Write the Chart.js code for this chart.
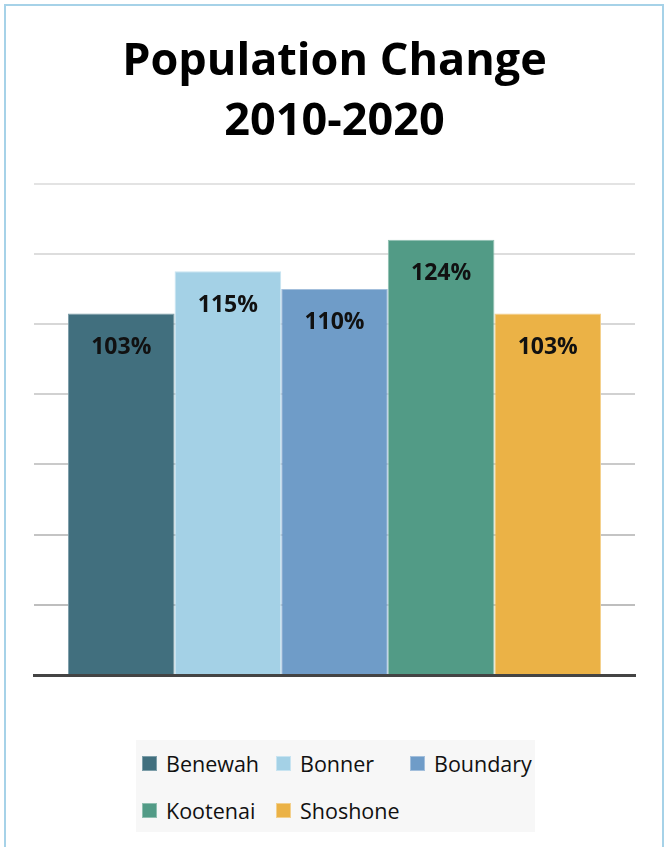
<!DOCTYPE html>
<html>
<head>
<meta charset="utf-8">
<script src="https://cdn.jsdelivr.net/npm/chart.js@4.4.1/dist/chart.umd.min.js"></script>
<style>
  html, body { margin: 0; padding: 0; background: #fff; }
  body { width: 664px; height: 847px; position: relative; overflow: hidden; font-family: 'Open Sans', 'Noto Sans', sans-serif; }
  .frame { position: absolute; left: 4px; top: 4px; width: 660px; height: 860px; border: 2px solid #a6d2e8; box-sizing: border-box; }
  #chart { position: absolute; left: 0; top: 0; }
  #legend { position: absolute; left: 136px; top: 740px; width: 399px; height: 92px; background: #f7f7f7;
            display: grid; grid-template-columns: repeat(3, 134px); grid-auto-rows: 47px; padding: 0 0 0 6px; box-sizing: border-box; }
  .item { display: flex; align-items: center; font-size: 21.5px; color: #111; white-space: nowrap; }
  .swatch { width: 15px; height: 15px; margin-right: 9px; box-sizing: border-box; }
</style>
</head>
<body>
<div class="frame"></div>
<canvas id="chart" width="664" height="847"></canvas>
<div id="legend"></div>
<script>
const counties = ['Benewah', 'Bonner', 'Boundary', 'Kootenai', 'Shoshone'];
const changePct = [103, 115, 110, 124, 103];
const fillColors = ['#416f7e', '#a4d1e6', '#6f9cc8', '#529b86', '#ebb246'];
const edgeColors = ['#7d9ea9', '#c8e4f1', '#a3bfdc', '#8fbfb0', '#f3d08d'];
const yTicks = [0, 20, 40, 60, 80, 100, 120, 140];

// darker grid lines toward the baseline
const gridShade = v => {
  const t = v / 140;
  const c = Math.round(184 + (227 - 184) * t);
  return `rgb(${c},${c},${c})`;
};

const barLabels = {
  id: 'barLabels',
  afterDatasetsDraw(chart) {
    const ctx = chart.ctx;
    ctx.save();
    ctx.font = 'bold 23px "Open Sans"';
    ctx.fillStyle = '#111';
    ctx.textAlign = 'center';
    ctx.textBaseline = 'middle';
    chart.data.datasets.forEach((ds, i) => {
      const bar = chart.getDatasetMeta(i).data[0];
      ctx.fillText(ds.data[0] + '%', bar.x, bar.y + 34);
    });
    ctx.restore();
  }
};

const chart = new Chart(document.getElementById('chart'), {
  type: 'bar',
  data: {
    labels: ['Population Change'],
    datasets: counties.map((name, i) => ({
      label: name,
      data: [changePct[i]],
      backgroundColor: fillColors[i],
      borderColor: edgeColors[i],
      borderWidth: 1,
      categoryPercentage: 0.887,
      barPercentage: 1
    }))
  },
  options: {
    responsive: false,
    animation: false,
    layout: { padding: { left: 34, right: 29, top: 0, bottom: 164 } },
    plugins: {
      legend: { display: false },
      tooltip: { enabled: false },
      title: {
        display: true,
        text: ['Population Change', '2010-2020'],
        color: '#000',
        font: { family: 'Open Sans', size: 45, weight: 'bold', lineHeight: 1.34 },
        padding: { top: 32, bottom: 31 }
      }
    },
    scales: {
      x: {
        ticks: { display: false },
        grid: { display: false },
        border: { display: true, color: '#444', width: 3 }
      },
      y: {
        min: 0,
        max: 140,
        afterBuildTicks: axis => { axis.ticks = yTicks.map(v => ({ value: v })); },
        ticks: { display: false },
        border: { display: false },
        grid: { drawTicks: false, lineWidth: 2, color: ctx => gridShade(ctx.tick.value) }
      }
    }
  },
  plugins: [barLabels]
});

// legend built from the datasets
const legend = document.getElementById('legend');
chart.data.datasets.forEach(ds => {
  const item = document.createElement('div');
  item.className = 'item';
  item.innerHTML = `<span class="swatch" style="background:${ds.backgroundColor};border:1px solid ${ds.borderColor}"></span>${ds.label}`;
  legend.appendChild(item);
});
</script>
</body>
</html>
